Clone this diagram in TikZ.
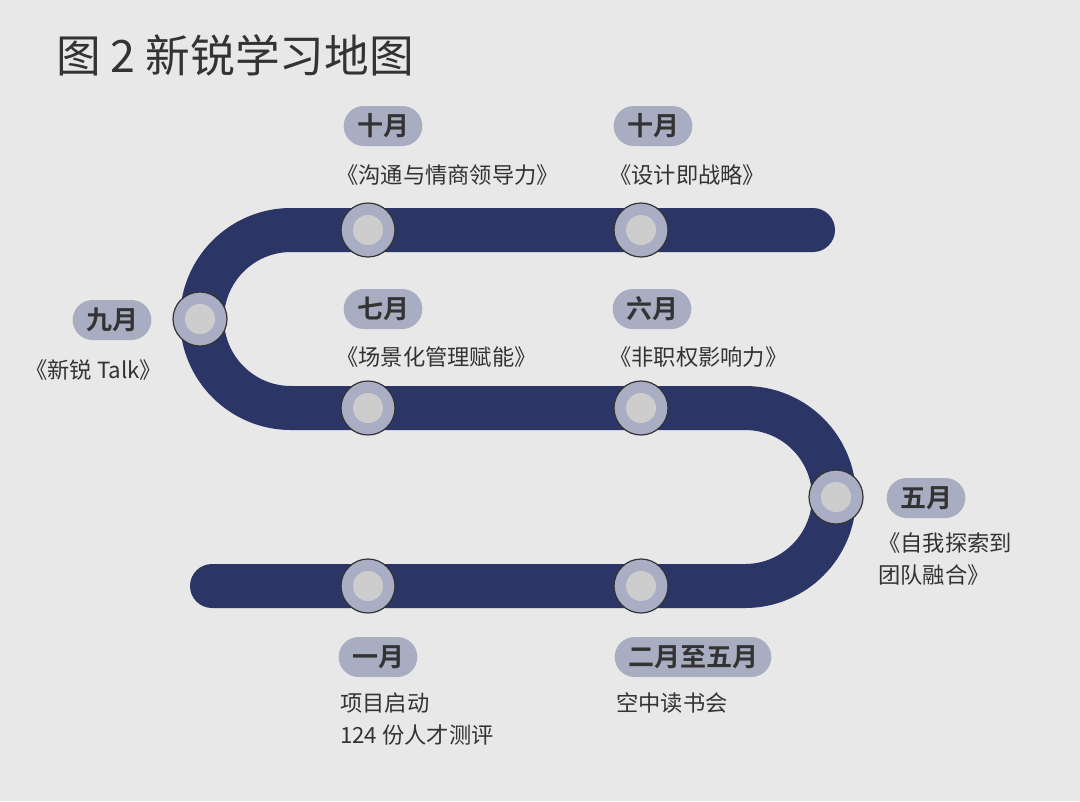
\documentclass[tikz,border=0pt]{standalone}
\usepackage{fontspec}
\setmainfont{Noto Sans CJK SC}
\newfontfamily\cjkbold{Noto Sans CJK SC Bold}
\definecolor{bg}{HTML}{E8E8E8}
\definecolor{navy}{HTML}{2B3566}
\definecolor{pillc}{HTML}{A8ADC2}
\definecolor{ringc}{HTML}{A9AEC4}
\definecolor{innerc}{HTML}{CDCDCD}
\definecolor{txt}{HTML}{333333}
\begin{document}
\begin{tikzpicture}[x=0.75pt,y=-0.75pt,
  track/.style={draw=navy,line width=33pt,line cap=round},
  stop/.style={circle,draw=txt,line width=0.9pt,fill=ringc,minimum size=40.5pt,inner sep=0pt,
    path picture={\fill[innerc] (path picture bounding box.center) circle (11.25pt);}},
  pill/.style={fill=pillc,rounded corners=15pt,minimum height=30pt,inner xsep=10pt,inner ysep=0pt,
    font=\cjkbold\fontsize{19.5pt}{22pt}\selectfont,text=txt},
  lbl/.style={anchor=west,inner sep=0pt,font=\fontsize{16.7pt}{24pt}\selectfont,text=txt,align=left},
  ttl/.style={anchor=west,inner sep=0pt,font=\fontsize{33.5pt}{36pt}\selectfont,text=txt}]
\fill[bg] (0,0) rectangle (1080,801);
\useasboundingbox (0,0) rectangle (1080,801);
\node[ttl] (title) at (56,55) {图 2 新锐学习地图};
\draw[track] (813,230) -- (291,230) arc (90:270:66.75pt) -- (745,408) arc (90:-90:66.75pt) -- (212,586);
\node[stop] (s1) at (368,230) {};
\node[stop] (s2) at (641,230) {};
\node[stop] (s3) at (200,319) {};
\node[stop] (s4) at (368,408) {};
\node[stop] (s5) at (641,408) {};
\node[stop] (s6) at (836,497) {};
\node[stop] (s7) at (368,586) {};
\node[stop] (s8) at (641,586) {};
\node[pill] (p1) at (383,126) {十月};
\node[pill] (p2) at (653,126) {十月};
\node[pill] (p3) at (112,320) {九月};
\node[pill] (p4) at (383,309) {七月};
\node[pill] (p5) at (652,309) {六月};
\node[pill] (p6) at (926,498) {五月};
\node[pill] (p7) at (378,657) {一月};
\node[pill] (p8) at (693,657) {二月至五月};
\node[lbl] (l1) at (336,175) {《沟通与情商领导力》};
\node[lbl] (l2) at (609,175) {《设计即战略》};
\node[lbl] (l3) at (25,370) {《新锐 Talk》};
\node[lbl] (l4) at (336,357) {《场景化管理赋能》};
\node[lbl] (l5) at (609,357) {《非职权影响力》};
\node[lbl] (l6) at (878,559) {《自我探索到\\团队融合》};
\node[lbl] (l7) at (340,719) {项目启动\\124 份人才测评};
\node[lbl] (l8) at (616,703) {空中读书会};
\end{tikzpicture}
\end{document}
